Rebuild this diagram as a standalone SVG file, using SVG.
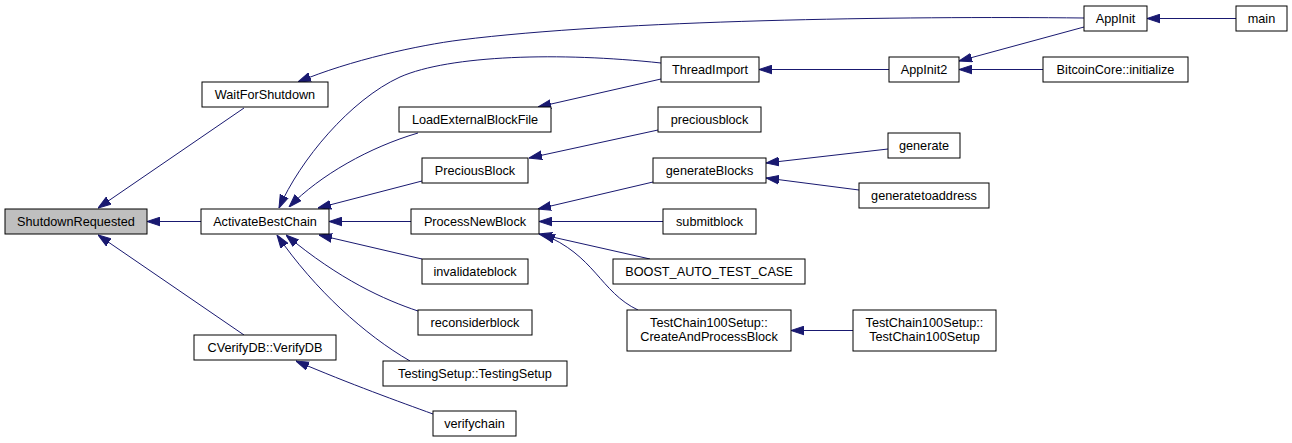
<svg xmlns="http://www.w3.org/2000/svg" width="1292" height="443" viewBox="0 0 1292 443">
<style>
.n rect{fill:#ffffff;stroke:#000000;stroke-width:1}
.n text{font-family:"Liberation Sans",Arial,sans-serif;font-size:12.7px;fill:#000000;text-anchor:middle}
#edges path{fill:none;stroke:#191970;stroke-width:1;marker-end:url(#ah)}
</style>
<defs>
<marker id="ah" markerUnits="userSpaceOnUse" markerWidth="13" markerHeight="10" viewBox="0 0 13 10" refX="13" refY="5" orient="auto">
<path d="M0,0.7 L13,5 L0,9.3 Z" fill="#191970" stroke="#191970" stroke-width="1"/>
</marker>
</defs>
<rect width="1292" height="443" fill="#ffffff"/>
<g id="edges">
<path d="M244,108 L98,208"/>
<path d="M201,221.5 L147,221.5"/>
<path d="M244,335 L98,235"/>
<path d="M1084,18 C900,16 620,20 460,40 C420,45 350,60 298,82"/>
<path d="M661,63 C560,52 450,55 400,77 C350,100 300,160 279,208"/>
<path d="M418,133 C370,147 320,175 289,207"/>
<path d="M422,181 L318,208"/>
<path d="M411,221.5 L329,221.5"/>
<path d="M422,259 L319,235"/>
<path d="M418,311 C385,300 340,280 286,235"/>
<path d="M410,361 C365,335 315,290 277,235"/>
<path d="M661,79 L538,107"/>
<path d="M889,69.5 L759,69.5"/>
<path d="M1084,27 L959,61"/>
<path d="M1043,69.5 L959,69.5"/>
<path d="M1236,18.5 L1147,18.5"/>
<path d="M658,130 L529,158"/>
<path d="M653,182 L538,209"/>
<path d="M663,221.5 L539,221.5"/>
<path d="M650,259 L539,234"/>
<path d="M638,310 C600,292 595,255 542,234"/>
<path d="M888,149 L766,163"/>
<path d="M859,190 L766,178"/>
<path d="M853,330.5 L791,330.5"/>
<path d="M433,414 C400,402 350,384 296,361"/>
</g>
<g id="n_sr" class="n"><rect x="5" y="209" width="142" height="25" style="fill:#bfbfbf"/><text x="76" y="226">ShutdownRequested</text></g>
<g id="n_wfs" class="n"><rect x="202" y="82" width="126" height="25"/><text x="265" y="99">WaitForShutdown</text></g>
<g id="n_abc" class="n"><rect x="201" y="209" width="128" height="25"/><text x="265" y="226">ActivateBestChain</text></g>
<g id="n_vdb" class="n"><rect x="194" y="335" width="142" height="25"/><text x="265" y="352">CVerifyDB::VerifyDB</text></g>
<g id="n_vc" class="n"><rect x="433" y="411" width="83" height="25"/><text x="474.5" y="428">verifychain</text></g>
<g id="n_ts" class="n"><rect x="383" y="361" width="184" height="25"/><text x="475" y="378">TestingSetup::TestingSetup</text></g>
<g id="n_rb" class="n"><rect x="418" y="310" width="114" height="25"/><text x="475" y="327">reconsiderblock</text></g>
<g id="n_ib" class="n"><rect x="422" y="259" width="106" height="25"/><text x="475" y="276">invalidateblock</text></g>
<g id="n_lebf" class="n"><rect x="399" y="107" width="152" height="25"/><text x="475" y="124">LoadExternalBlockFile</text></g>
<g id="n_pb" class="n"><rect x="422" y="158" width="106" height="25"/><text x="475" y="175">PreciousBlock</text></g>
<g id="n_pnb" class="n"><rect x="411" y="209" width="128" height="25"/><text x="475" y="226">ProcessNewBlock</text></g>
<g id="n_ti" class="n"><rect x="661" y="57" width="98" height="25"/><text x="710" y="74">ThreadImport</text></g>
<g id="n_pbl" class="n"><rect x="658" y="107" width="103" height="25"/><text x="709.5" y="124">preciousblock</text></g>
<g id="n_gb" class="n"><rect x="653" y="158" width="113" height="25"/><text x="709.5" y="175">generateBlocks</text></g>
<g id="n_sb" class="n"><rect x="663" y="209" width="93" height="25"/><text x="709.5" y="226">submitblock</text></g>
<g id="n_batc" class="n"><rect x="613" y="259" width="192" height="25"/><text x="709" y="276">BOOST_AUTO_TEST_CASE</text></g>
<g id="n_capb" class="n"><rect x="627" y="310" width="164" height="41"/><text x="709" y="327">TestChain100Setup::</text><text x="709" y="341">CreateAndProcessBlock</text></g>
<g id="n_tcs" class="n"><rect x="853" y="310" width="143" height="41"/><text x="924.5" y="327">TestChain100Setup::</text><text x="924.5" y="341">TestChain100Setup</text></g>
<g id="n_ai" class="n"><rect x="1084" y="6" width="63" height="25"/><text x="1115.5" y="23">AppInit</text></g>
<g id="n_main" class="n"><rect x="1236" y="6" width="51" height="25"/><text x="1261.5" y="23">main</text></g>
<g id="n_ai2" class="n"><rect x="889" y="57" width="70" height="25"/><text x="924" y="74">AppInit2</text></g>
<g id="n_bci" class="n"><rect x="1043" y="57" width="145" height="25"/><text x="1115.5" y="74">BitcoinCore::initialize</text></g>
<g id="n_gen" class="n"><rect x="888" y="133" width="72" height="25"/><text x="924" y="150">generate</text></g>
<g id="n_gta" class="n"><rect x="859" y="183" width="130" height="25"/><text x="924" y="200">generatetoaddress</text></g>
</svg>
